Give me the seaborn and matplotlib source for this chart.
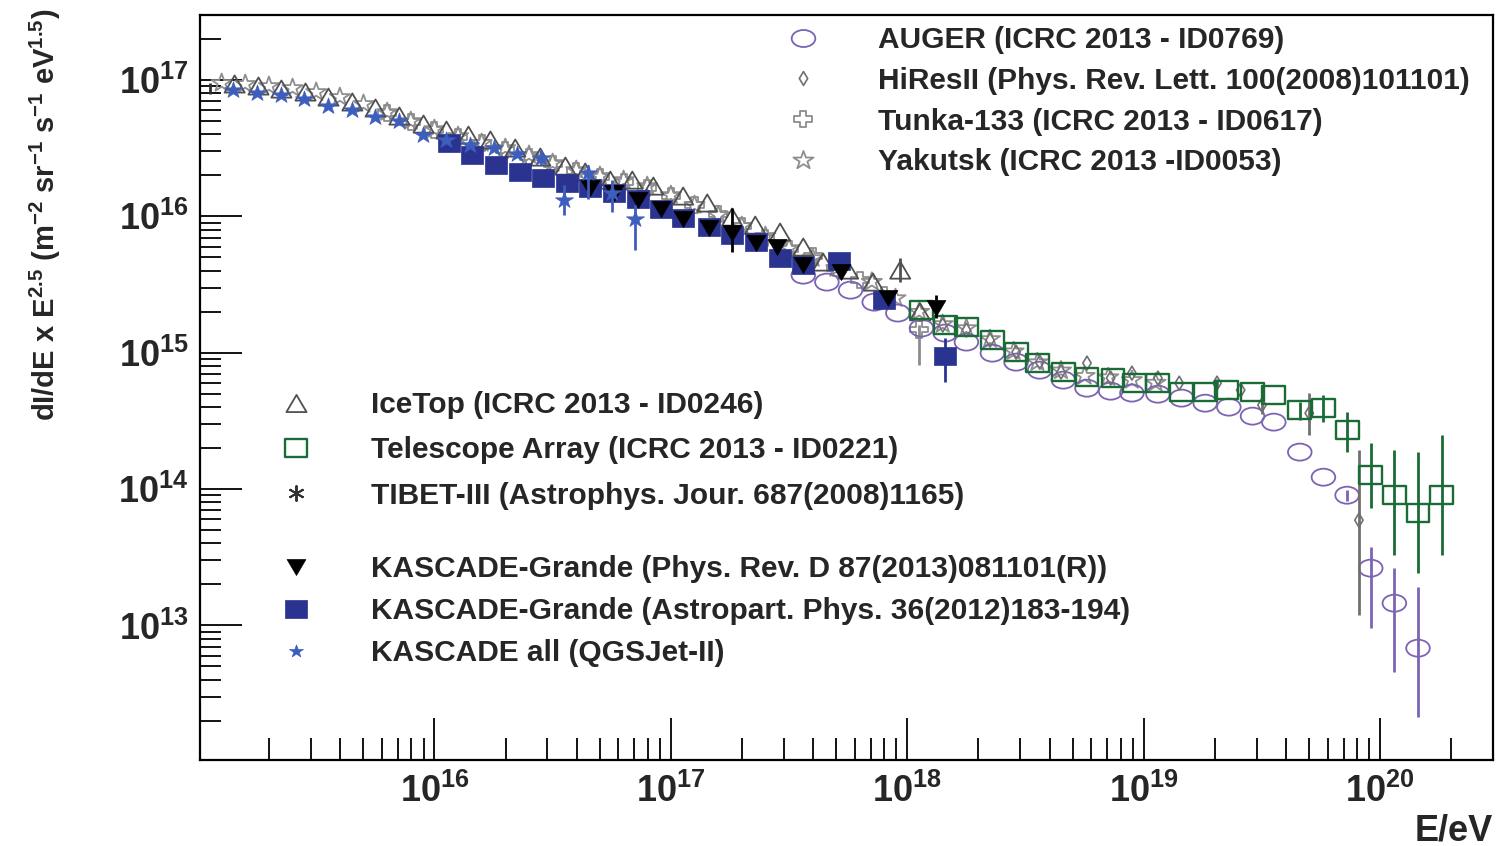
import numpy as np
import pandas as pd
import matplotlib
matplotlib.use("Agg")
import matplotlib.pyplot as plt
from matplotlib.markers import MarkerStyle
from matplotlib.path import Path
from matplotlib.lines import Line2D
from matplotlib.ticker import LogLocator, FuncFormatter, NullFormatter, FixedLocator
import seaborn as sns

# ---------------- data (log10 E/eV , log10 flux) ----------------
kas_all_logE = [15.15, 15.25, 15.35, 15.45, 15.55, 15.65, 15.75, 15.85, 15.95, 16.05,
                16.15, 16.25, 16.35, 16.45, 16.55, 16.65, 16.75, 16.85]
kas_all_logF = [16.93, 16.905, 16.89, 16.86, 16.81, 16.78, 16.73, 16.70, 16.60, 16.56,
                16.52, 16.50, 16.46, 16.43, 16.12, 16.32, 16.17, 15.98]
kas_err_logE = [16.45, 16.55, 16.65, 16.75, 16.85]
kas_err_lo = [16.38, 16.01, 16.13, 16.03, 15.75]
kas_err_hi = [16.49, 16.23, 16.38, 16.27, 16.08]

kg12_logE = [16.06, 16.16, 16.26, 16.36, 16.46, 16.56, 16.66, 16.76, 16.86, 16.96,
             17.05, 17.16, 17.26, 17.36, 17.46, 17.56, 17.71, 17.90, 18.16]
kg12_logF = [16.538, 16.450, 16.376, 16.325, 16.281, 16.244, 16.208, 16.171, 16.127, 16.054,
             15.988, 15.922, 15.863, 15.811, 15.694, 15.643, 15.672, 15.386, 14.975]
kg12_err_logE = [18.16]
kg12_err_lo = [14.784]
kg12_err_hi = [15.107]

kg13_logE = [16.66, 16.76, 16.86, 16.96, 17.05, 17.16, 17.26, 17.36, 17.45, 17.56,
             17.72, 17.92, 18.12]
kg13_logF = [16.208, 16.171, 16.120, 16.054, 15.980, 15.914, 15.877, 15.804, 15.775, 15.643,
             15.591, 15.401, 15.327]
kg13_err_logE = [17.26, 18.12]
kg13_err_lo = [15.738, 15.254]
kg13_err_hi = [16.061, 15.423]

tibet_logE = [15.05, 15.15, 15.25, 15.35, 15.45, 15.55, 15.65, 15.75, 15.85, 15.95,
              16.05, 16.15, 16.25, 16.35, 16.45, 16.55, 16.65, 16.75, 16.85, 16.95]
tibet_logF = [16.941, 16.934, 16.919, 16.905, 16.875, 16.839, 16.795, 16.743, 16.685, 16.633,
              16.582, 16.538, 16.494, 16.442, 16.391, 16.340, 16.281, 16.230, 16.120, 16.010]
tibet_err_logE = [15.05]
tibet_err_lo = [16.90]
tibet_err_hi = [16.98]

yakutsk_logE = [15.1, 15.2, 15.3, 15.4, 15.5, 15.6, 15.7, 15.8, 15.9, 16.0,
                16.1, 16.2, 16.3, 16.4, 16.5, 16.6, 16.7, 16.8, 16.9, 17.0,
                17.1, 17.2, 17.3, 17.4, 17.5, 17.6, 17.7,
                17.85, 17.95, 18.05, 18.15, 18.25, 18.35, 18.45, 18.55, 18.65,
                18.75, 18.85, 18.95, 19.05]
yakutsk_logF = [16.978, 16.971, 16.956, 16.941, 16.912, 16.875, 16.824, 16.765, 16.699, 16.640,
                16.589, 16.538, 16.501, 16.450, 16.391, 16.340, 16.296, 16.266, 16.222, 16.156,
                16.083, 16.010, 15.929, 15.856, 15.767, 15.694, 15.62,
                15.52, 15.40, 15.30, 15.21, 15.18, 15.10, 15.01, 14.93, 14.87,
                14.83, 14.82, 14.80, 14.78]

icetop_logE = [15.155, 15.256, 15.353, 15.455, 15.552, 15.653, 15.751, 15.852, 15.954, 16.051,
               16.144, 16.237, 16.342, 16.448, 16.554, 16.638, 16.744, 16.837, 16.926, 17.052,
               17.154, 17.259, 17.357, 17.462, 17.560, 17.644, 17.750, 17.855, 17.970, 18.054]
icetop_logF = [16.971, 16.956, 16.934, 16.912, 16.875, 16.839, 16.795, 16.736, 16.677, 16.633,
               16.596, 16.560, 16.501, 16.435, 16.369, 16.325, 16.266, 16.266, 16.222, 16.149,
               16.098, 15.995, 15.936, 15.885, 15.775, 15.665, 15.606, 15.518, 15.606, 15.30]
icetop_err_logE = [17.970]
icetop_err_lo = [15.52]
icetop_err_hi = [15.694]

tunka_logE = [15.8, 15.9, 16.0, 16.1, 16.2, 16.3, 16.4, 16.5, 16.6, 16.7,
              16.8, 16.9, 17.0, 17.1, 17.2, 17.3, 17.4, 17.5, 17.6, 17.7,
              17.8, 17.9, 18.05]
tunka_logF = [16.758, 16.692, 16.633, 16.582, 16.538, 16.486, 16.435, 16.384, 16.332, 16.288,
              16.252, 16.208, 16.149, 16.083, 16.017, 15.929, 15.841, 15.760, 15.709, 15.621,
              15.533, 15.423, 15.17]
tunka_err_logE = [18.05]
tunka_err_lo = [14.91]
tunka_err_hi = [15.20]

hires_logE = [18.15, 18.25, 18.35, 18.46, 18.56, 18.65, 18.76, 18.86, 18.95, 19.06,
              19.15, 19.31, 19.41, 19.50, 19.70, 19.91]
hires_logF = [15.203, 15.166, 15.092, 15.004, 14.931, 14.858, 14.924, 14.814, 14.850, 14.814,
              14.777, 14.777, 14.726, 14.616, 14.557, 13.772]
hires_err_logE = [19.31, 19.50, 19.70, 19.91]
hires_err_lo = [14.74, 14.55, 14.395, 13.075]
hires_err_hi = [14.81, 14.68, 14.704, 14.285]

auger_logE = [17.56, 17.66, 17.76, 17.86, 17.96, 18.06, 18.16, 18.25, 18.36, 18.46,
              18.56, 18.66, 18.76, 18.86, 18.95, 19.06, 19.16, 19.26, 19.36, 19.46,
              19.55, 19.66, 19.76, 19.86, 19.96, 20.06, 20.16]
auger_logF = [15.569, 15.518, 15.459, 15.371, 15.291, 15.181, 15.144, 15.078, 14.997, 14.931,
              14.872, 14.799, 14.740, 14.718, 14.704, 14.696, 14.667, 14.630, 14.601, 14.535,
              14.491, 14.271, 14.087, 13.955, 13.420, 13.163, 12.833]
auger_err_logE = [19.86, 19.96, 20.06, 20.16]
auger_err_lo = [13.91, 12.979, 12.657, 12.327]
auger_err_hi = [13.99, 13.574, 13.420, 13.280]

ta_logE = [18.06, 18.16, 18.25, 18.36, 18.46, 18.55, 18.66, 18.76, 18.87, 18.96,
           19.06, 19.16, 19.26, 19.35, 19.46, 19.55, 19.66, 19.76, 19.86, 19.96,
           20.06, 20.16, 20.26]
ta_logF = [15.313, 15.203, 15.188, 15.092, 15.004, 14.924, 14.858, 14.821, 14.814, 14.777,
           14.777, 14.711, 14.711, 14.726, 14.711, 14.689, 14.579, 14.594, 14.432, 14.102,
           13.955, 13.823, 13.955]
ta_err_logE = [19.66, 19.76, 19.86, 19.96, 20.06, 20.16, 20.26]
ta_err_lo = [14.506, 14.491, 14.271, 13.860, 13.515, 13.383, 13.515]
ta_err_hi = [14.638, 14.689, 14.564, 14.337, 14.285, 14.271, 14.395]

x_major_exp = [16, 17, 18, 19, 20]
y_major_exp = [13, 14, 15, 16, 17]

labels = {
    "auger": "AUGER (ICRC 2013 - ID0769)",
    "hires": "HiResII (Phys. Rev. Lett. 100(2008)101101)",
    "tunka": "Tunka-133 (ICRC 2013 - ID0617)",
    "yakutsk": "Yakutsk (ICRC 2013 -ID0053)",
    "icetop": "IceTop (ICRC 2013 - ID0246)",
    "ta": "Telescope Array (ICRC 2013 - ID0221)",
    "tibet": "TIBET-III (Astrophys. Jour. 687(2008)1165)",
    "kg13": "KASCADE-Grande (Phys. Rev. D 87(2013)081101(R))",
    "kg12": "KASCADE-Grande (Astropart. Phys. 36(2012)183-194)",
    "kas": "KASCADE all (QGSJet-II)",
}

# ---------------- style ----------------
sns.set_style("white")
plt.rcParams["font.family"] = ["Liberation Sans", "DejaVu Sans"]
plt.rcParams["font.weight"] = "bold"
plt.rcParams["mathtext.fontset"] = "custom"
plt.rcParams["mathtext.rm"] = "Liberation Sans:bold"
plt.rcParams["mathtext.bf"] = "Liberation Sans:bold"
plt.rcParams["mathtext.it"] = "Liberation Sans:bold"
plt.rcParams["mathtext.default"] = "bf"


def squashed(m, sy):
    ms = MarkerStyle(m)
    p = ms.get_path().transformed(ms.get_transform())
    v = p.vertices.copy()
    v[:, 1] *= sy
    return Path(v, p.codes)


M_ELL = squashed("o", 0.72)
M_RECT = squashed("s", 0.8)
M_TUP = squashed("^", 0.85)
M_TDN = squashed("v", 0.85)
M_STAR = squashed("*", 0.9)
M_CROSS = squashed("P", 0.9)
M_DIAM = squashed("d", 1.0)
M_AST = (6, 2, 0)

C_AUGER = "#7c63b3"
C_HIRES = "#707070"
C_TUNKA = "#8c8c8c"
C_YAK = "#8e8e8e"
C_ICE = "#505050"
C_TA = "#1b6b37"
C_TIBET = "#303030"
C_KG13 = "#000000"
C_KG12 = "#2a3490"
C_KAS = "#3d5ebd"

fig = plt.figure(figsize=(14.99, 8.46), dpi=100)
ax = fig.add_axes([200 / 1499, 1 - 760 / 846, 1293 / 1499, 745 / 846])
ax.set_xscale("log")
ax.set_yscale("log")


def series(logE, logF, marker, size, face, edge, lw, z):
    df = pd.DataFrame({"E": np.power(10.0, logE), "F": np.power(10.0, logF)})
    sns.scatterplot(data=df, x="E", y="F", marker=marker, s=size ** 2,
                    facecolor=face, edgecolor=edge, linewidth=lw,
                    zorder=z, ax=ax, legend=False)


def errs(logE, lo, hi, color, z, lw=2.0):
    ax.vlines(np.power(10.0, logE), np.power(10.0, lo), np.power(10.0, hi),
              colors=color, linewidth=lw, zorder=z)


# drawing order
errs(tibet_err_logE, tibet_err_lo, tibet_err_hi, C_TIBET, 2)
series(yakutsk_logE, yakutsk_logF, M_STAR, 14.5, "none", C_YAK, 1.3, 3)
series(tibet_logE, tibet_logF, M_AST, 11.5, "none", C_TIBET, 1.4, 3.2)
errs(tunka_err_logE, tunka_err_lo, tunka_err_hi, C_TUNKA, 3.3)
series(tunka_logE, tunka_logF, M_CROSS, 13, "none", C_TUNKA, 1.3, 3.4)
errs(icetop_err_logE, icetop_err_lo, icetop_err_hi, C_ICE, 3.5)
series(icetop_logE, icetop_logF, M_TUP, 14.5, "none", C_ICE, 1.3, 3.6)
errs(auger_err_logE, auger_err_lo, auger_err_hi, C_AUGER, 3.7)
series(auger_logE, auger_logF, M_ELL, 17, "none", C_AUGER, 1.3, 3.8)
errs(hires_err_logE, hires_err_lo, hires_err_hi, C_HIRES, 3.9)
series(hires_logE, hires_logF, M_DIAM, 10, "none", C_HIRES, 1.2, 4.0)
errs(ta_err_logE, ta_err_lo, ta_err_hi, C_TA, 4.1)
series(ta_logE, ta_logF, M_RECT, 16.5, "none", C_TA, 1.7, 4.2)
errs(kg12_err_logE, kg12_err_lo, kg12_err_hi, C_KG12, 4.3)
series(kg12_logE, kg12_logF, M_RECT, 16.5, C_KG12, C_KG12, 0.5, 4.4)
errs(kg13_err_logE, kg13_err_lo, kg13_err_hi, C_KG13, 4.5)
series(kg13_logE, kg13_logF, M_TDN, 13.5, C_KG13, C_KG13, 0.5, 4.6)
errs(kas_err_logE, kas_err_lo, kas_err_hi, C_KAS, 4.7)
series(kas_all_logE, kas_all_logF, M_STAR, 13, C_KAS, C_KAS, 0.5, 4.8)

# ---------------- axes ----------------
ax.set_xlim(1.02e15, 3.0e20)
ax.set_ylim(1.03e12, 3.0e17)
ax.xaxis.set_major_locator(FixedLocator([10.0 ** e for e in x_major_exp]))
ax.yaxis.set_major_locator(FixedLocator([10.0 ** e for e in y_major_exp]))
ax.xaxis.set_minor_locator(LogLocator(base=10, subs=np.arange(2, 10), numticks=200))
ax.yaxis.set_minor_locator(LogLocator(base=10, subs=np.arange(2, 10), numticks=200))


def fmt(v, pos):
    e = int(round(np.log10(v)))
    return r"$\mathbf{10^{%d}}$" % e


ax.xaxis.set_major_formatter(FuncFormatter(fmt))
ax.yaxis.set_major_formatter(FuncFormatter(fmt))
ax.xaxis.set_minor_formatter(NullFormatter())
ax.yaxis.set_minor_formatter(NullFormatter())
ax.tick_params(which="both", direction="in", top=False, right=False,
               bottom=True, left=True, color="black", width=1.3)
ax.tick_params(axis="y", which="major", length=30, pad=8, labelsize=26)
ax.tick_params(axis="y", which="minor", length=15)
ax.tick_params(axis="x", which="major", length=30, pad=10, labelsize=26)
ax.tick_params(axis="x", which="minor", length=16)
for sp in ax.spines.values():
    sp.set_color("black")
    sp.set_linewidth(1.6)
ax.grid(False)

ax.set_xlabel("E/eV", loc="right", fontsize=26, fontweight="bold")
ax.xaxis.set_label_coords(1.0, -0.072)
ax.set_ylabel(r"dI/dE x E$^{2.5}$ (m$^{-2}$ sr$^{-1}$ s$^{-1}$ eV$^{1.5}$)",
              fontsize=21, fontweight="bold")
ax.yaxis.set_label_coords(-0.106, 0.7315)


# ---------------- legends ----------------
def h(marker, size, face, edge, lw):
    return Line2D([], [], linestyle="none", marker=marker, markersize=size,
                  markerfacecolor=face, markeredgecolor=edge, markeredgewidth=lw)


leg_kw = dict(frameon=False, fontsize=21.5, handlelength=1.0, handletextpad=2.0,
              borderpad=0, borderaxespad=0, loc="upper left",
              bbox_transform=fig.transFigure)

top_handles = [h(M_ELL, 17, "none", C_AUGER, 1.3), h(M_DIAM, 10, "none", C_HIRES, 1.2),
               h(M_CROSS, 13, "none", C_TUNKA, 1.3), h(M_STAR, 14.5, "none", C_YAK, 1.3)]
top_labels = [labels["auger"], labels["hires"], labels["tunka"], labels["yakutsk"]]
leg1 = ax.legend(top_handles, top_labels, bbox_to_anchor=(0.5257, 0.9693),
                 labelspacing=0.43, **leg_kw)
ax.add_artist(leg1)

mid_handles = [h(M_TUP, 14.5, "none", C_ICE, 1.3), h(M_RECT, 16.5, "none", C_TA, 1.7),
               h(M_AST, 11.5, "none", C_TIBET, 1.4)]
mid_labels = [labels["icetop"], labels["ta"], labels["tibet"]]
leg2 = ax.legend(mid_handles, mid_labels, bbox_to_anchor=(0.1875, 0.5378),
                 labelspacing=0.58, **leg_kw)
ax.add_artist(leg2)

bot_handles = [h(M_TDN, 13.5, C_KG13, C_KG13, 0.5), h(M_RECT, 16.5, C_KG12, C_KG12, 0.5),
               h(M_STAR, 10, C_KAS, C_KAS, 0.5)]
bot_labels = [labels["kg13"], labels["kg12"], labels["kas"]]
ax.legend(bot_handles, bot_labels, bbox_to_anchor=(0.1875, 0.3440),
          labelspacing=0.47, **leg_kw)

fig.savefig("out.png", dpi=100)
